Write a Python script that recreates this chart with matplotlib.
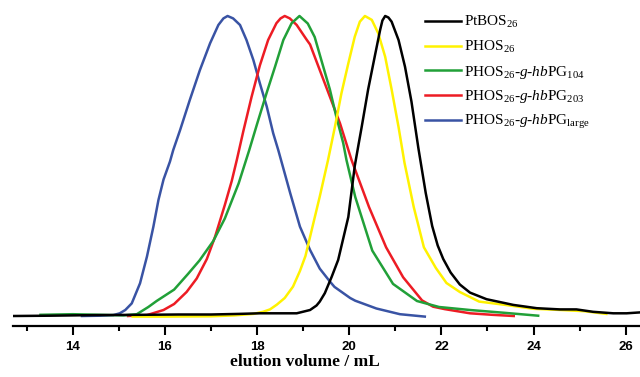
import numpy as np
import matplotlib
matplotlib.use("Agg")
import matplotlib.pyplot as plt
from matplotlib.ticker import MultipleLocator

plt.rcParams['mathtext.fontset'] = 'custom'
plt.rcParams['mathtext.rm'] = 'Liberation Serif'
plt.rcParams['mathtext.it'] = 'Liberation Serif:italic'

# elution volume (mL) / normalised detector signal
ptbos_x = [12.71, 13.5, 14.5, 15.5, 16.3, 17.0, 17.6, 18.06, 18.5, 18.86, 19.15, 19.29, 19.36, 19.47,
           19.62, 19.76, 19.98, 20.12, 20.2, 20.27, 20.41, 20.56, 20.67, 20.72, 20.78, 20.85, 20.92,
           21.07, 21.21, 21.35, 21.5, 21.66, 21.8, 21.92, 22.04, 22.2, 22.4, 22.62, 22.98, 23.56,
           24.07, 24.57, 24.93, 25.29, 25.73, 26.02, 26.31]
ptbos_y = [0.0, 0.001, 0.003, 0.004, 0.005, 0.005, 0.007, 0.009, 0.009, 0.009, 0.02, 0.035, 0.048, 0.076,
           0.131, 0.187, 0.33, 0.5, 0.57, 0.63, 0.755, 0.87, 0.953, 0.985, 1.0, 0.995, 0.981,
           0.92, 0.831, 0.715, 0.56, 0.41, 0.3, 0.235, 0.19, 0.145, 0.105, 0.078, 0.056, 0.037,
           0.026, 0.022, 0.022, 0.014, 0.009, 0.009, 0.012]

phos_x = [15.3, 16.0, 17.0, 17.5, 17.92, 18.13, 18.28, 18.43, 18.6, 18.78, 18.93, 19.05, 19.15,
          19.36, 19.54, 19.69, 19.83, 19.98, 20.12, 20.23, 20.34, 20.49, 20.63, 20.78, 20.92,
          21.07, 21.2, 21.4, 21.62, 21.88, 22.11, 22.4, 22.82, 23.34, 24.0, 24.6, 25.1, 25.58]
phos_y = [-0.002, -0.002, -0.001, 0.002, 0.007, 0.014, 0.022, 0.038, 0.06, 0.098, 0.15, 0.2, 0.264,
          0.398, 0.52, 0.631, 0.742, 0.842, 0.931, 0.981, 1.0, 0.987, 0.942, 0.864, 0.755,
          0.63, 0.51, 0.363, 0.229, 0.16, 0.11, 0.08, 0.048, 0.038, 0.024, 0.02, 0.016, 0.007]

g104_x = [13.3, 14.0, 14.6, 15.1, 15.39, 15.64, 15.82, 16.2, 16.5, 16.75, 17.05, 17.3, 17.6,
          17.83, 18.0, 18.21, 18.39, 18.57, 18.75, 18.92, 19.1, 19.25, 19.4, 19.58, 19.72,
          19.87, 19.94, 20.13, 20.5, 20.95, 21.47, 21.95, 22.62, 23.34, 24.1]
g104_y = [0.004, 0.006, 0.004, 0.002, 0.006, 0.03, 0.05, 0.088, 0.14, 0.185, 0.25, 0.325, 0.442,
          0.553, 0.64, 0.745, 0.831, 0.92, 0.976, 1.0, 0.975, 0.93, 0.85, 0.755, 0.664,
          0.576, 0.52, 0.397, 0.218, 0.107, 0.05, 0.03, 0.02, 0.011, 0.001]

g203_x = [15.2, 15.61, 15.97, 16.2, 16.47, 16.69, 16.91, 17.09, 17.3, 17.45, 17.56, 17.7, 17.88, 18.06,
          18.24, 18.42, 18.51, 18.6, 18.71, 18.86, 19.08, 19.15, 19.36, 19.58, 19.8, 20.05,
          20.43, 20.8, 21.17, 21.58, 21.82, 22.07, 22.62, 23.1, 23.57]
g203_y = [0.0, 0.003, 0.02, 0.04, 0.08, 0.125, 0.19, 0.265, 0.37, 0.45, 0.52, 0.615, 0.73, 0.835,
          0.92, 0.976, 0.992, 1.0, 0.992, 0.97, 0.92, 0.905, 0.82, 0.731, 0.642, 0.52,
          0.363, 0.229, 0.129, 0.052, 0.031, 0.023, 0.009, 0.004, 0.0]

large_x = [14.2, 14.6, 14.88, 15.02, 15.14, 15.28, 15.46, 15.61, 15.75, 15.86, 15.97, 16.11, 16.18,
           16.33, 16.54, 16.76, 16.98, 17.16, 17.27, 17.36, 17.48, 17.63, 17.77, 17.92, 18.06,
           18.21, 18.35, 18.46, 18.72, 18.93, 19.15, 19.36, 19.58, 19.68, 20.02, 20.13, 20.59,
           21.1, 21.64]
large_y = [0.0, 0.001, 0.003, 0.009, 0.02, 0.042, 0.109, 0.198, 0.298, 0.387, 0.455, 0.515, 0.553,
           0.62, 0.72, 0.82, 0.909, 0.97, 0.992, 1.0, 0.992, 0.97, 0.92, 0.853, 0.776,
           0.698, 0.609, 0.553, 0.409, 0.298, 0.22, 0.158, 0.115, 0.097, 0.06, 0.051, 0.025,
           0.006, -0.002]

labels = ["PtBOS$_{26}$",
          "PHOS$_{26}$",
          "PHOS$_{26}$-$g$-$hb$PG$_{104}$",
          "PHOS$_{26}$-$g$-$hb$PG$_{203}$",
          "PHOS$_{26}$-$g$-$hb$PG$_{\\rm large}$"]
colors = ["#000000", "#fff200", "#21a038", "#ed1c24", "#3953a4"]
series = [(ptbos_x, ptbos_y), (phos_x, phos_y), (g104_x, g104_y), (g203_x, g203_y), (large_x, large_y)]

fig = plt.figure(figsize=(6.4, 3.77), dpi=100)
ax = fig.add_axes([0.0208, 0.1353, 0.9792, 0.8647])

# draw back to front so black ends up on top
for i in [4, 3, 2, 1, 0]:
    ax.plot(series[i][0], series[i][1], color=colors[i], lw=1.8, solid_joinstyle='round')

ax.set_xlim(12.71, 26.31)
ax.set_ylim(-0.0333, 1.0533)
for s in ['left', 'right', 'top']:
    ax.spines[s].set_visible(False)
ax.spines['bottom'].set_linewidth(1.6)
ax.set_yticks([])
ax.xaxis.set_major_locator(MultipleLocator(2))
ax.xaxis.set_minor_locator(MultipleLocator(1))
ax.tick_params(axis='x', which='major', direction='out', length=6.5, width=1.5, pad=4)
ax.tick_params(axis='x', which='minor', direction='out', length=3.6, width=1.5)
for t in ax.get_xticklabels():
    t.set_fontfamily('Liberation Sans')
    t.set_fontweight('bold')
    t.set_fontsize(9.5)

ax.set_xlabel("elution volume / mL", family='Liberation Serif', fontweight='bold', fontsize=12.5, labelpad=2)
ax.xaxis.set_label_coords((305 - 13.3) / 626.7, -0.085)

# legend, placed by hand
for i, lab in enumerate(labels):
    ly = 20.7 + 24.8 * i
    fig.add_artist(plt.Line2D([425 / 640, 461 / 640], [1 - ly / 377, 1 - ly / 377],
                              color=colors[i], lw=1.8))
    fig.text(464 / 640, 1 - (ly + 5.3) / 377, lab, family='Liberation Serif', fontsize=11,
             va='baseline', ha='left')

fig.savefig("out.png", dpi=100)
